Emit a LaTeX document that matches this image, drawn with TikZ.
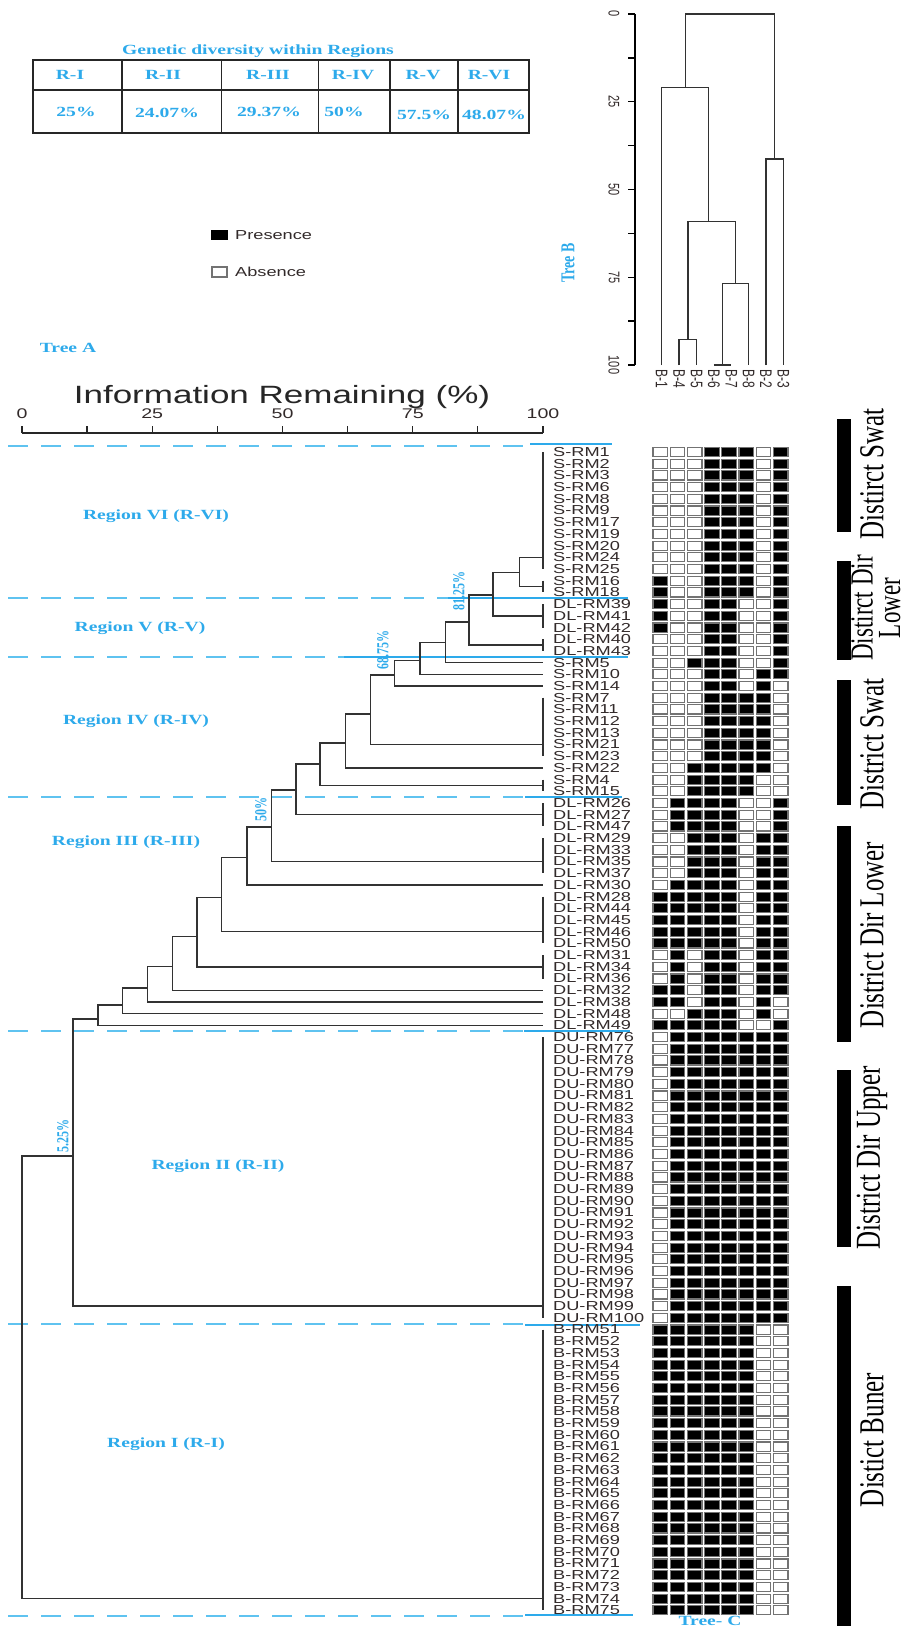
\documentclass[tikz,border=0pt]{standalone}
\usepackage{fontspec}
\setmainfont{Liberation Serif}
\setsansfont{Liberation Sans}
\usepackage{graphicx}
\definecolor{lblue}{RGB}{45,170,235}
\definecolor{dblue}{RGB}{95,195,240}
\definecolor{tgray}{RGB}{50,50,50}
\definecolor{labc}{RGB}{50,42,42}
\definecolor{cellgray}{RGB}{115,115,115}
\newcommand{\hs}[1]{\scalebox{1.4}[1]{#1}}
\newcommand{\vs}[1]{\scalebox{1}[1.4]{#1}}
\begin{document}
\begin{tikzpicture}[x=1pt,y=-1pt,
  blu/.style={text=lblue,font=\fontsize{14}{14}\selectfont\bfseries,inner sep=0pt},
  rowlab/.style={anchor=west,inner sep=0pt,text=labc,font=\sffamily\fontsize{13}{13}\selectfont},
  sanslab/.style={inner sep=0pt,text=labc,font=\sffamily\fontsize{14}{14}\selectfont},
  tree/.style={draw=tgray,line width=1.4pt},
  regline/.style={draw=dblue,line width=1.5pt,dash pattern=on 20pt off 13pt},
  regsolid/.style={draw=lblue,line width=1.2pt},
  tabline/.style={draw=black!85,line width=1.8pt},
  bar/.style={fill=black},
  dist/.style={rotate=90,inner sep=0pt,font=\fontsize{25}{18}\selectfont,align=center}]
\useasboundingbox (0,0) rectangle (908,1629);
\fill[white] (0,0) rectangle (908,1629);

% ---------- table ----------
\node[blu] (ttitle) at (258,51) {\hs{Genetic diversity within Regions}};
\draw[tabline] (32.7,60.3) rectangle (528.6,133.3);
\draw[tabline] (32.7,90.3) -- (528.6,90.3);
\foreach \x in {122.2,221.4,318.5,390.2,458}{\draw[tabline] (\x,60.3) -- (\x,133.3);}
\foreach \t/\x [count=\i] in {R-I/70,R-II/163,R-III/268,R-IV/353,R-V/423,R-VI/489}
  {\node[blu] (th\i) at (\x,75) {\hs{\t}};}
\foreach \t/\x/\y [count=\i] in {25\%/76/112,24.07\%/167/113,29.37\%/269/112,50\%/344/112,57.5\%/424/115,48.07\%/494/115}
  {\node[blu] (tv\i) at (\x,\y) {\hs{\t}};}

% ---------- legend ----------
\fill[black] (211,230) rectangle (228,240);
\node[sanslab,anchor=west,font=\sffamily\fontsize{13}{13}\selectfont] (pres) at (235,235) {\hs{Presence}};
\draw[cellgray,line width=1.3pt,fill=white] (212,267) rectangle (227,277);
\node[sanslab,anchor=west,font=\sffamily\fontsize{13}{13}\selectfont] (abs) at (235,272) {\hs{Absence}};

\node[blu] (treeA) at (68,348) {\hs{Tree A}};
\node[blu,rotate=90] (treeB) at (568,263) {\vs{Tree B}};
\node[blu] (treeC) at (710,1621) {\hs{Tree- C}};

% ---------- Tree B ----------
\draw[black,line width=1.5pt] (635,14) -- (635,365);
\foreach \i in {0,...,8}{\draw[black,line width=1.3pt] (628,{14+\i*43.875}) -- (635,{14+\i*43.875});}
\foreach \v [count=\i] in {0,25,50,75,100}
  {\node[sanslab,rotate=-90,font=\sffamily\fontsize{11}{11}\selectfont] (bt\i) at (614,{14+\v*3.51}) {\vs{\v}};}
\foreach \n/\x in {B1/661.7,B4/679.1,B5/696.5,B6/713.9,B7/731.3,B8/748.7,B2/766.1,B3/783.5}
  {\coordinate (b\n) at (\x,365);}
\coordinate (bW) at (722.6,365);
\coordinate (bZ) at (735.6,283.3);
\coordinate (bY) at (687.8,339.3);
\coordinate (bX) at (708.3,221.7);
\coordinate (bL) at (685.7,87.3);
\coordinate (bR) at (774.6,159);
\coordinate (bRoot) at (730,14);
\draw[tree] (bB6) -- (bB7);
\draw[tree] (bW) |- (bZ) -| (bB8);
\draw[tree] (bB4) |- (bY) -| (bB5);
\draw[tree] (bY) |- (bX) -| (bZ);
\draw[tree] (bB1) |- (bL) -| (bX);
\draw[tree] (bB2) |- (bR) -| (bB3);
\draw[tree] (bL) |- (bRoot) -| (bR);
\foreach \t/\x [count=\i] in {B-1/661.7,B-4/679.1,B-5/696.5,B-6/713.9,B-7/731.3,B-8/748.7,B-2/766.1,B-3/783.5}
  {\node[sanslab,rotate=-90,anchor=west,font=\sffamily\fontsize{12}{12}\selectfont] (bl\i) at (\x,369) {\vs{\t}};}

% ---------- axis of tree A ----------
\node[sanslab,font=\sffamily\fontsize{25}{25}\selectfont,text=black!85] (axtitle) at (282,397) {\hs{Information Remaining (\%)}};
\draw[black!85,line width=1.6pt] (22,433) -- (543,433);
\foreach \i in {0,...,8}{\draw[black!85,line width=1.4pt] ({22+\i*65.1},433) -- ({22+\i*65.1},426);}
\foreach \v [count=\i] in {0,25,50,75,100}
  {\node[sanslab] (ax\i) at ({22+\v*5.21},414) {\hs{\v}};}

% ---------- region lines ----------
\foreach \y in {446,598,657,797,1031,1324,1616}{\draw[regline] (8,\y) -- (530,\y);}
\draw[regsolid] (530,444) -- (612,444);
\draw[regsolid] (448,598) -- (628,598);
\draw[regsolid] (344,657) -- (628,657);
\draw[regsolid] (525,797) -- (622,797);
\draw[regsolid] (524,1031) -- (630,1031);
\draw[regsolid] (525,1325) -- (640,1325);
\draw[regsolid] (525,1615) -- (633,1615);

\node[blu] (rVI) at (156,516) {\hs{Region VI (R-VI)}};
\node[blu] (rV) at (140,628) {\hs{Region V (R-V)}};
\node[blu] (rIV) at (136,721) {\hs{Region IV (R-IV)}};
\node[blu] (rIII) at (126,842) {\hs{Region III (R-III)}};
\node[blu] (rII) at (218,1166) {\hs{Region II (R-II)}};
\node[blu] (rI) at (166,1444) {\hs{Region I (R-I)}};

% ---------- Tree A ----------
\foreach \n/\ya/\yb/\ys in {L1/452/569/557.3, L2/580.7/592.4/586.5, L3/604.1/627.5/615.8, L4/639.2/650.9/645.1,
  L5/697.7/756.2/744.5, L6/779.6/791.3/785.5, L7/803/826.4/814.7, L8/838.1/873.2/861.5,
  L9/896.6/943.4/931.7, L10/955.1/978.5/966.8, L11/1037/1317.8/1306, L12/1329.5/1610.3/1598.6}
  {\draw[tree] (543,\ya) -- (543,\yb); \coordinate (c\n) at (543,\ys);}
\foreach \n/\ys in {s5/662.6, s10/674.3, s14/686, s22/768, d30/884.9, d32/990.2, d38/1001.9, d48/1013.6, d49/1025.3}
  {\coordinate (c\n) at (543,\ys);}
\coordinate (nA) at (519.3,572.7);
\coordinate (nB) at (493,595);
\coordinate (nC) at (469,622);
\coordinate (nD) at (445.2,642.6);
\coordinate (nE) at (420,660.5);
\coordinate (nF) at (394.3,675);
\coordinate (nG) at (370.2,714);
\coordinate (nH) at (345.4,743);
\coordinate (nI) at (320,764);
\coordinate (nJ) at (296,790);
\coordinate (nK) at (271.3,827);
\coordinate (nL) at (247,857.5);
\coordinate (nM) at (221.4,897.7);
\coordinate (nN) at (197,936.7);
\coordinate (nO) at (172.2,966.6);
\coordinate (nP) at (147.4,988);
\coordinate (nQ) at (122.2,1005);
\coordinate (nR) at (98.1,1019);
\coordinate (nS) at (73,1156);
\coordinate (nT) at (22,1300);
\draw[tree] (cL1) -| (nA) |- (cL2);
\draw[tree] (nA) -| (nB) |- (cL3);
\draw[tree] (nB) -| (nC) |- (cL4);
\draw[tree] (nC) -| (nD) |- (cs5);
\draw[tree] (nD) -| (nE) |- (cs10);
\draw[tree] (nE) -| (nF) |- (cs14);
\draw[tree] (nF) -| (nG) |- (cL5);
\draw[tree] (nG) -| (nH) |- (cs22);
\draw[tree] (nH) -| (nI) |- (cL6);
\draw[tree] (nI) -| (nJ) |- (cL7);
\draw[tree] (nJ) -| (nK) |- (cL8);
\draw[tree] (nK) -| (nL) |- (cd30);
\draw[tree] (nL) -| (nM) |- (cL9);
\draw[tree] (nM) -| (nN) |- (cL10);
\draw[tree] (nN) -| (nO) |- (cd32);
\draw[tree] (nO) -| (nP) |- (cd38);
\draw[tree] (nP) -| (nQ) |- (cd48);
\draw[tree] (nQ) -| (nR) |- (cd49);
\draw[tree] (nR) -| (nS) |- (cL11);
\draw[tree] (nS) -| (nT) |- (cL12);

\node[blu,rotate=90,font=\fontsize{12}{12}\selectfont\bfseries] (p81) at (459,591) {\vs{81.25\%}};
\node[blu,rotate=90,font=\fontsize{12}{12}\selectfont\bfseries] (p68) at (383,650) {\vs{68.75\%}};
\node[blu,rotate=90,font=\fontsize{12}{12}\selectfont\bfseries] (p50) at (261,809) {\vs{50\%}};
\node[blu,rotate=90,font=\fontsize{12}{12}\selectfont\bfseries] (p5) at (63,1136) {\vs{5.25\%}};

% ---------- row labels ----------
\foreach \n [count=\r] in {S-RM1,S-RM2,S-RM3,S-RM6,S-RM8,S-RM9,S-RM17,S-RM19,S-RM20,S-RM24,S-RM25,S-RM16,S-RM18,
  DL-RM39,DL-RM41,DL-RM42,DL-RM40,DL-RM43,S-RM5,S-RM10,S-RM14,S-RM7,S-RM11,S-RM12,S-RM13,S-RM21,S-RM23,S-RM22,
  S-RM4,S-RM15,DL-RM26,DL-RM27,DL-RM47,DL-RM29,DL-RM33,DL-RM35,DL-RM37,DL-RM30,DL-RM28,DL-RM44,DL-RM45,DL-RM46,
  DL-RM50,DL-RM31,DL-RM34,DL-RM36,DL-RM32,DL-RM38,DL-RM48,DL-RM49}
  {\node[rowlab] (lab\r) at (553,{452+(\r-1)*11.7}) {\hs{\n}};}
\foreach \k [count=\r from 51] in {76,...,100}
  {\node[rowlab] (lab\r) at (553,{452+(\r-1)*11.7}) {\hs{DU-RM\k}};}
\foreach \k [count=\r from 76] in {51,...,75}
  {\node[rowlab] (lab\r) at (553,{452+(\r-1)*11.7}) {\hs{B-RM\k}};}

% ---------- presence / absence matrix ----------
\foreach \ra/\rb/\pa/\pb/\pc/\pd/\pe/\pf/\pg/\ph in {
  1/11/0/0/0/1/1/1/0/1, 12/13/1/0/0/1/1/1/0/1, 14/16/1/0/0/1/1/0/0/1, 17/18/0/0/0/1/1/0/0/1,
  19/19/0/0/1/1/1/0/0/1, 20/20/0/0/0/1/1/0/1/1, 21/21/0/0/0/1/1/0/1/0, 22/27/0/0/0/1/1/1/1/0,
  28/28/0/0/1/1/1/1/1/0, 29/30/0/0/1/1/1/1/0/0, 31/33/0/1/1/1/1/0/0/1, 34/37/0/0/1/1/1/0/1/1,
  38/38/0/1/1/1/1/0/1/1, 39/43/1/1/1/1/1/0/1/1, 44/46/0/1/0/1/1/0/1/1, 47/47/1/1/0/1/1/0/1/1,
  48/48/1/1/0/1/1/0/1/0, 49/49/0/0/1/1/1/0/1/0, 50/50/1/1/1/1/1/0/0/1, 51/75/0/1/1/1/1/1/1/1,
  76/100/1/1/1/1/1/1/0/0}{
  \foreach \r in {\ra,...,\rb}{
    \foreach \vv [count=\k] in {\pa,\pb,\pc,\pd,\pe,\pf,\pg,\ph}{
      \pgfmathsetmacro{\xa}{651.7+(\k-1)*17.2+1.3}
      \pgfmathsetmacro{\ya}{446.2+(\r-1)*11.7+1.3}
      \pgfmathsetmacro{\xb}{\xa+17.2-2.6}
      \pgfmathsetmacro{\yb}{\ya+11.7-2.6}
      \ifnum\vv=1 \def\fc{black}\else\def\fc{white}\fi
      \filldraw[fill=\fc,draw=cellgray,line width=1.1pt] (\xa,\ya) rectangle (\xb,\yb);
    }}}

% ---------- district bars ----------
\fill[bar] (837,419) rectangle (851,532);
\fill[bar] (837,561) rectangle (851,660);
\fill[bar] (837,680) rectangle (851,805);
\fill[bar] (837,826) rectangle (851,1042);
\fill[bar] (837,1070) rectangle (851,1247);
\fill[bar] (837,1286) rectangle (851,1626);
\node[dist] (d1) at (872,474) {\vs{Distirct Swat}};
\node[dist,font=\fontsize{23}{15.5}\selectfont] (d2) at (879,608) {\vs{\begin{tabular}{@{}c@{}}Distirct Dir\\Lower\end{tabular}}};
\node[dist] (d3) at (872,744) {\vs{District Swat}};
\node[dist] (d4) at (872,935) {\vs{District Dir Lower}};
\node[dist] (d5) at (872,1158) {\vs{District Dir Upper}};
\node[dist] (d6) at (872,1440) {\vs{Distict Buner}};
\end{tikzpicture}
\end{document}
